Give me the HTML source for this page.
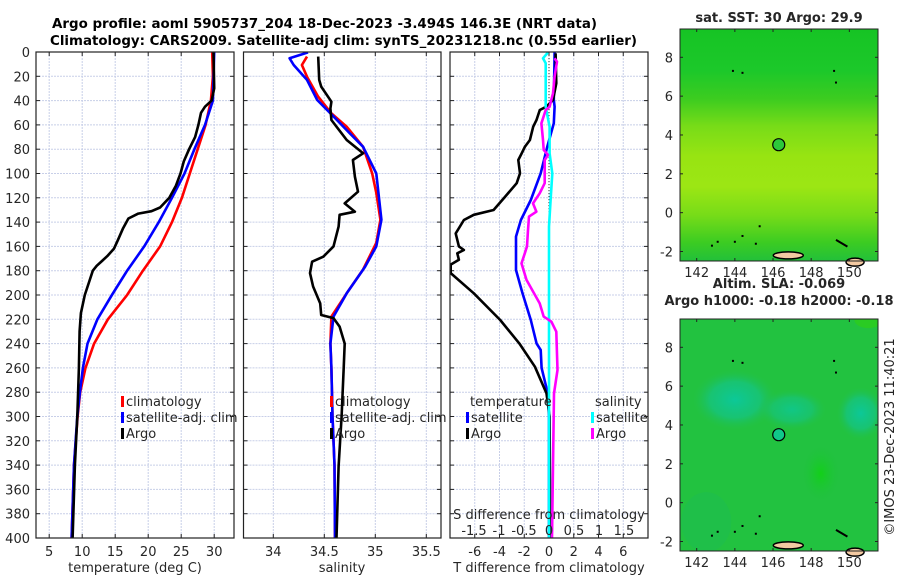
<!DOCTYPE html>
<html><head><meta charset="utf-8">
<style>
html,body{margin:0;padding:0;background:#fff;}
svg{display:block;font-family:"DejaVu Sans","Liberation Sans",sans-serif;}
</style></head>
<body>
<svg id="fig" width="900" height="580" viewBox="0 0 900 580" xmlns="http://www.w3.org/2000/svg">
<defs>
<linearGradient id="sstGrad" x1="0" y1="0" x2="0" y2="1">
<stop offset="0" stop-color="#16c424"/>
<stop offset="0.18" stop-color="#1cc82a"/>
<stop offset="0.3" stop-color="#3ccc20"/>
<stop offset="0.42" stop-color="#78dc18"/>
<stop offset="0.55" stop-color="#98e412"/>
<stop offset="0.68" stop-color="#9ce614"/>
<stop offset="0.8" stop-color="#78dc18"/>
<stop offset="0.92" stop-color="#3ccc22"/>
<stop offset="1" stop-color="#22c03a"/>
</linearGradient>
<radialGradient id="tealBlob" cx="0.5" cy="0.5" r="0.5">
<stop offset="0" stop-color="#0cc898"/>
<stop offset="0.6" stop-color="#16c47e" stop-opacity="0.8"/>
<stop offset="1" stop-color="#20c050" stop-opacity="0"/>
</radialGradient>
<radialGradient id="greenBlob" cx="0.5" cy="0.5" r="0.5">
<stop offset="0" stop-color="#12d018"/>
<stop offset="1" stop-color="#20c040" stop-opacity="0"/>
</radialGradient>
<clipPath id="clipP1"><rect x="36" y="52" width="198" height="486"/></clipPath>
<clipPath id="clipP2"><rect x="243.5" y="52" width="197.5" height="486"/></clipPath>
<clipPath id="clipP3"><rect x="450" y="52" width="198" height="486"/></clipPath>
<clipPath id="clipM2"><rect x="680" y="319" width="198" height="232"/></clipPath>
</defs>
<g id="titles">
<text x="52" y="28" font-size="13" font-weight="bold" textLength="545" lengthAdjust="spacingAndGlyphs">Argo profile: aoml 5905737_204 18-Dec-2023 -3.494S 146.3E (NRT data)</text>
<text x="50" y="45" font-size="13" font-weight="bold" textLength="587" lengthAdjust="spacingAndGlyphs">Climatology: CARS2009. Satellite-adj clim: synTS_20231218.nc (0.55d earlier)</text>
</g>
<g id="panels"></g>
<g id="maps"></g>
<text transform="translate(894,437) rotate(-90)" font-size="13" text-anchor="middle" fill="#222">©IMOS 23-Dec-2023 11:40:21</text>
</svg>
<script>
// ---------- data ----------
const depthTicks = [0,20,40,60,80,100,120,140,160,180,200,220,240,260,280,300,320,340,360,380,400];
const tempTicks = [5,10,15,20,25,30];
const salTicks = [34,34.5,35,35.5];
const salTickLabels = ["34","34.5","35","35.5"];
const tdiffTicks = [-6,-4,-2,0,2,4,6];
const sdiffTicks = [-1.5,-1,-0.5,0,0.5,1,1.5];
const sdiffTickLabels = ["-1.5","-1","-0.5","0","0.5","1","1.5"];

const climTDepth = [0,20,40,60,80,100,120,140,160,180,200,220,240,260,280,300,340,400];
const climTValue = [29.7,29.8,29.5,28.7,27.5,26.3,25.1,23.6,21.8,19.2,16.8,13.9,11.8,10.5,9.7,9.3,8.75,8.4];
const satTDepth = [0,40,60,80,100,120,140,160,180,200,220,240,260,280,300,340,400];
const satTValue = [30.0,29.8,28.6,27.0,25.5,23.6,21.6,19.4,16.8,14.5,12.3,10.8,10.1,9.65,9.25,8.75,8.4];
const argoTDepth = [0,30,40,45,50,60,70,80,90,100,110,120,128,131,133,137,145,155,162,168,172,176,180,190,200,215,230,260,300,340,400];
const argoTValue = [29.9,30.0,29.6,28.6,28.0,27.6,27.1,26.2,25.4,24.9,24.2,23.2,21.8,20.5,18.5,17.0,16.2,15.4,14.8,13.8,13.0,12.2,11.6,11.0,10.4,9.8,9.6,9.5,9.25,8.9,8.55];

const climSDepth = [3.8,10.7,20.3,36.8,50.5,61.5,78,100,116,138,157,179,198.6,217.8,240,260,300,340,400];
const climSValue = [34.33,34.28,34.33,34.44,34.57,34.72,34.88,34.97,35.01,35.05,35.01,34.88,34.72,34.57,34.56,34.57,34.58,34.60,34.605];
const satSDepth = [0.3,5.2,10.7,23,39.5,53,67,78,100,138,160,176.7,198.6,217.8,240,260,300,340,400];
const satSValue = [34.34,34.16,34.2,34.33,34.43,34.59,34.75,34.88,35.01,35.06,35.01,34.9,34.72,34.59,34.56,34.57,34.58,34.6,34.605];
const argoSDepth = [3.8,23,28.5,40.9,46.4,56,72.4,83.4,88.9,102.6,115,124.6,131.4,134,143.7,160,168.5,172.6,182,193,206.9,216.5,219,226,240,260,300,341,400];
const argoSValue = [34.44,34.45,34.47,34.57,34.56,34.57,34.72,34.88,34.78,34.8,34.83,34.7,34.8,34.65,34.64,34.59,34.49,34.38,34.36,34.39,34.46,34.47,34.59,34.65,34.7,34.69,34.67,34.64,34.62];

const tdSatDepth = [0.3,39.5,45,58.7,77.9,99.8,121.8,138.3,151.9,179.4,198.6,220.6,240,245.3,260,281,300,400];
const tdSatValue = [0.45,0.39,0.45,0.39,-0.14,-0.67,-1.47,-2.27,-2.67,-2.67,-2.14,-1.47,-1.0,-0.67,-0.6,-0.1,0,0];
const tdArgoDepth = [1.1,25.8,39.5,45,47.7,56,61.5,72.4,77.9,83.4,88.9,99.8,108,119,130,134,138.3,149.3,160,163,165.7,171,175,182,198.6,220.6,239.8,259,281,300,400];
const tdArgoValue = [0.53,0.59,0.32,-0.21,-0.74,-1.01,-1.28,-1.54,-1.94,-2.21,-2.48,-2.34,-2.61,-3.54,-4.48,-6.08,-6.88,-7.54,-7.28,-6.88,-7.41,-7.28,-7.94,-7.94,-6.08,-3.94,-2.4,-1.14,-0.2,0.05,0.1];
const sdSatDepth = [0.3,5.2,9.3,45,61.5,83.4,100,121.8,143.7,400];
const sdSatValue = [-0.02,-0.12,-0.066,-0.066,0.013,0.013,0.066,0.033,0,0];
const sdArgoDepth = [5.2,8,20.3,34,45,47.7,58.7,72.4,80.6,84.8,88.9,108,116.3,124.6,131.4,135.5,146.5,160,165.7,174,187.6,206.9,217.8,222,230.2,261.7,281,400];
const sdArgoValue = [0.113,0.16,0.113,0.08,0.013,-0.066,-0.153,-0.12,-0.106,-0.02,-0.086,-0.086,-0.186,-0.32,-0.253,-0.40,-0.42,-0.44,-0.485,-0.55,-0.45,-0.186,-0.106,0.047,0.146,0.17,0.1,0.06];

const latTicks = [-2,0,2,4,6,8];
const lonTicks = [142,144,146,148,150];
const argoLon = 146.3, argoLat = 3.5;

// ---------- scales ----------
const Y0=52, Y1=538;
const yD = d => Y0 + (d/400)*(Y1-Y0);
const P = [
 {x0:36,x1:234,min:3,max:33},
 {x0:243.5,x1:441,min:34+(243.5-273.3)/102,max:34+(441-273.3)/102},
 {x0:450,x1:648,min:-8,max:8}
];
const sP3 = {min:-1.98,max:1.98};
const xS = (p,v) => p.x0 + (v-p.min)/(p.max-p.min)*(p.x1-p.x0);
const xSd = v => P[2].x0 + (v-sP3.min)/(sP3.max-sP3.min)*(P[2].x1-P[2].x0);

const NS='http://www.w3.org/2000/svg';
function mk(tag, attrs, parent){const e=document.createElementNS(NS,tag);for(const k in attrs)e.setAttribute(k,attrs[k]);parent.appendChild(e);return e;}
const panels=document.getElementById('panels');

function gridAndAxes(i, xTicks, xf, name){
  const p=P[i];
  const g=mk('g',{},panels);
  
  
  mk('rect',{x:p.x0,y:Y0,width:p.x1-p.x0,height:Y1-Y0,fill:'#fff'},g);
  depthTicks.forEach(d=>{
    const l=mk('line',{x1:p.x0,x2:p.x1,y1:yD(d),y2:yD(d),stroke:'#c8cfe8','stroke-width':1,'stroke-dasharray':'2,1'},g);
    
    
    mk('line',{x1:p.x0,x2:p.x0+4,y1:yD(d),y2:yD(d),stroke:'#222'},g);
    mk('line',{x1:p.x1-4,x2:p.x1,y1:yD(d),y2:yD(d),stroke:'#222'},g);
  });
  xTicks.forEach(v=>{
    const x=xf(v);
    const l=mk('line',{x1:x,x2:x,y1:Y0,y2:Y1,stroke:'#c8cfe8','stroke-width':1,'stroke-dasharray':'2,1'},g);
    
    
    mk('line',{x1:x,x2:x,y1:Y1-4,y2:Y1,stroke:'#222'},g);
    mk('line',{x1:x,x2:x,y1:Y0,y2:Y0+4,stroke:'#222'},g);
  });
  return g;
}
function series(i, depths, vals, xf, color, name, clip){
  let dstr='';
  depths.forEach((d,k)=>{dstr+=(k?'L':'M')+xf(vals[k]).toFixed(1)+','+yD(d).toFixed(1);});
  const path=mk('path',{d:dstr,fill:'none',stroke:color,'stroke-width':2.6,'stroke-linejoin':'round','clip-path':'url(#'+clip+')'},panels);
  
  
}
function frame(i){
  const p=P[i];
  mk('rect',{x:p.x0,y:Y0,width:p.x1-p.x0,height:Y1-Y0,fill:'none',stroke:'#222','stroke-width':1.2},panels);
}
function txt(x,y,s,opts,name,parent){
  const t=mk('text',Object.assign({x:x,y:y,'font-size':13,fill:'#262626'},opts||{}),parent||panels);
  t.textContent=s;
  
  
  return t;
}

// Panel 1 temperature
const f1=v=>xS(P[0],v);
gridAndAxes(0,tempTicks,f1,'temperature');
series(0,climTDepth,climTValue,f1,'#ff0000','climatology-temperature-line','clipP1');
series(0,satTDepth,satTValue,f1,'#0000ff','satellite-temperature-line','clipP1');
series(0,argoTDepth,argoTValue,f1,'#000000','argo-temperature-line','clipP1');
frame(0);
depthTicks.forEach(d=>txt(30,yD(d)+5,String(d),{'text-anchor':'end'},'depth-tick-label'));
tempTicks.forEach(v=>txt(f1(v),556,String(v),{'text-anchor':'middle'},'temperature-tick-label'));
txt(135,572,'temperature (deg C)',{'text-anchor':'middle'},'x-axis-title-temperature');

// Panel 2 salinity
const f2=v=>xS(P[1],v);
gridAndAxes(1,salTicks,f2,'salinity');
series(1,climSDepth,climSValue,f2,'#ff0000','climatology-salinity-line','clipP2');
series(1,satSDepth,satSValue,f2,'#0000ff','satellite-salinity-line','clipP2');
series(1,argoSDepth,argoSValue,f2,'#000000','argo-salinity-line','clipP2');
frame(1);
salTicks.forEach((v,k)=>txt(f2(v),556,salTickLabels[k],{'text-anchor':'middle'},'salinity-tick-label'));
txt(342,572,'salinity',{'text-anchor':'middle'},'x-axis-title-salinity');

// Panel 3 differences
const f3=v=>xS(P[2],v);
gridAndAxes(2,tdiffTicks,f3,'difference');
const zl=mk('line',{x1:f3(0),x2:f3(0),y1:Y0,y2:Y1,stroke:'#333','stroke-width':1,'stroke-dasharray':'1,2'},panels);


series(2,tdSatDepth,tdSatValue,f3,'#0000ff','satellite-tdiff-line','clipP3');
series(2,tdArgoDepth,tdArgoValue,f3,'#000000','argo-tdiff-line','clipP3');
series(2,sdSatDepth,sdSatValue,xSd,'#00ffff','satellite-sdiff-line','clipP3');
series(2,sdArgoDepth,sdArgoValue,xSd,'#ff00ff','argo-sdiff-line','clipP3');
frame(2);
tdiffTicks.forEach(v=>txt(f3(v),556,String(v),{'text-anchor':'middle'},'tdiff-tick-label'));
sdiffTicks.forEach((v,k)=>txt(xSd(v),535,sdiffTickLabels[k],{'text-anchor':'middle'},'sdiff-tick-label'));
txt(549,519,'S difference from climatology',{'text-anchor':'middle'},'sdiff-axis-title');
txt(549,572,'T difference from climatology',{'text-anchor':'middle'},'x-axis-title-tdiff');

// Legends
function legend(x,y,labels,colors,name){
  const g=mk('g',{},panels);
  
  
  labels.forEach((s,k)=>{
    if(colors[k]){
      mk('rect',{x:x,y:y+k*16-10,width:3,height:11,fill:colors[k]},g);
    }
    txt(x+(colors[k]?5:0),y+k*16,s,{},'legend-entry',g);
  });
}
legend(121,406,['climatology','satellite-adj. clim','Argo'],['#ff0000','#0000ff','#000000'],'temperature-legend');
legend(330,406,['climatology','satellite-adj. clim','Argo'],['#ff0000','#0000ff','#000000'],'salinity-legend');
legend(470,406,['temperature'],[null],'tdiff-legend-title');
legend(466,422,['satellite','Argo'],['#0000ff','#000000'],'tdiff-legend');
legend(595,406,['salinity'],[null],'sdiff-legend-title');
legend(591,422,['satellite','Argo'],['#00ffff','#ff00ff'],'sdiff-legend');

// ---------- maps ----------
const maps=document.getElementById('maps');
const MX0=680, MX1=878;
const lonX = lon => 696.7 + (lon-142)*19.08;
function drawMap(top, kind, title1, title2){
  const latY = lat => top + 28.3 + (8-lat)*19.42;
  const g=mk('g',{},maps);
  
  
  const h=232;
  if(kind==='sst'){
    mk('rect',{x:MX0,y:top,width:MX1-MX0,height:h,fill:'url(#sstGrad)'},g);
  } else {
    const bg=mk('g',{'clip-path':'url(#clipM2)'},g);
    mk('rect',{x:MX0,y:top,width:MX1-MX0,height:h,fill:'#22c240'},bg);
    mk('ellipse',{cx:lonX(144),cy:latY(5.3),rx:42,ry:30,fill:'url(#tealBlob)'},bg);
    mk('ellipse',{cx:lonX(147),cy:latY(4.8),rx:34,ry:20,fill:'url(#tealBlob)',opacity:0.8},bg);
    mk('ellipse',{cx:lonX(150.6),cy:latY(4.6),rx:24,ry:26,fill:'url(#tealBlob)'},bg);
    mk('ellipse',{cx:lonX(148.5),cy:latY(1.5),rx:20,ry:30,fill:'url(#greenBlob)'},bg);
    mk('ellipse',{cx:lonX(142.5),cy:latY(-1),rx:25,ry:30,fill:'#1cb860',opacity:0.3},bg);
    mk('ellipse',{cx:lonX(151),cy:latY(9.4),rx:14,ry:8,fill:'#30d010',opacity:0.6},bg);
  }
  const isl=mk('ellipse',{cx:lonX(146.8),cy:latY(-2.2),rx:15,ry:3.5,fill:'#f3c9a2',stroke:'#000','stroke-width':1.5},g);
  
  
  mk('ellipse',{cx:lonX(150.3),cy:latY(-2.55),rx:9,ry:4,fill:'#f3c9a2',stroke:'#000','stroke-width':1.5},g);
  mk('line',{x1:lonX(149.3),y1:latY(-1.4),x2:lonX(149.9),y2:latY(-1.75),stroke:'#000','stroke-width':2},g);
  [[143.9,7.3],[144.4,7.2],[149.2,7.3],[149.3,6.7],[142.8,-1.7],[143.1,-1.5],[144,-1.5],[144.4,-1.2],[145.1,-1.6],[145.3,-0.7]].forEach(c=>{
    mk('rect',{x:lonX(c[0])-1,y:latY(c[1])-1,width:2,height:2,fill:'#000'},g);
  });
  mk('rect',{x:MX0,y:top,width:MX1-MX0,height:h,fill:'none',stroke:'#222','stroke-width':1},g);
  const c=mk('circle',{cx:lonX(argoLon),cy:latY(argoLat),r:6,fill:kind==='sst'?'#2cc83a':'#10c88a',stroke:'#000','stroke-width':1.2},g);
  
  
  latTicks.forEach(v=>{
    mk('line',{x1:MX0,x2:MX0+3,y1:latY(v),y2:latY(v),stroke:'#222'},g);
    mk('line',{x1:MX1-3,x2:MX1,y1:latY(v),y2:latY(v),stroke:'#222'},g);
    txt(673,latY(v)+5,String(v),{'text-anchor':'end'},'latitude-tick-label',g);
  });
  lonTicks.forEach(v=>{
    mk('line',{x1:lonX(v),x2:lonX(v),y1:top+h-3,y2:top+h,stroke:'#222'},g);
    mk('line',{x1:lonX(v),x2:lonX(v),y1:top,y2:top+3,stroke:'#222'},g);
    txt(lonX(v),top+h+16,String(v),{'text-anchor':'middle'},'longitude-tick-label',g);
  });
  if(title2){
    txt(779,top-31,title1,{'text-anchor':'middle','font-weight':'bold'},'map-title',g);
    txt(779,top-14,title2,{'text-anchor':'middle','font-weight':'bold'},'map-subtitle',g);
  } else {
    txt(779,top-7,title1,{'text-anchor':'middle','font-weight':'bold'},'map-title',g);
  }
}
drawMap(29,'sst','sat. SST: 30 Argo: 29.9');
drawMap(319,'sla','Altim. SLA: -0.069','Argo h1000: -0.18 h2000: -0.18');
</script>
</body></html>
